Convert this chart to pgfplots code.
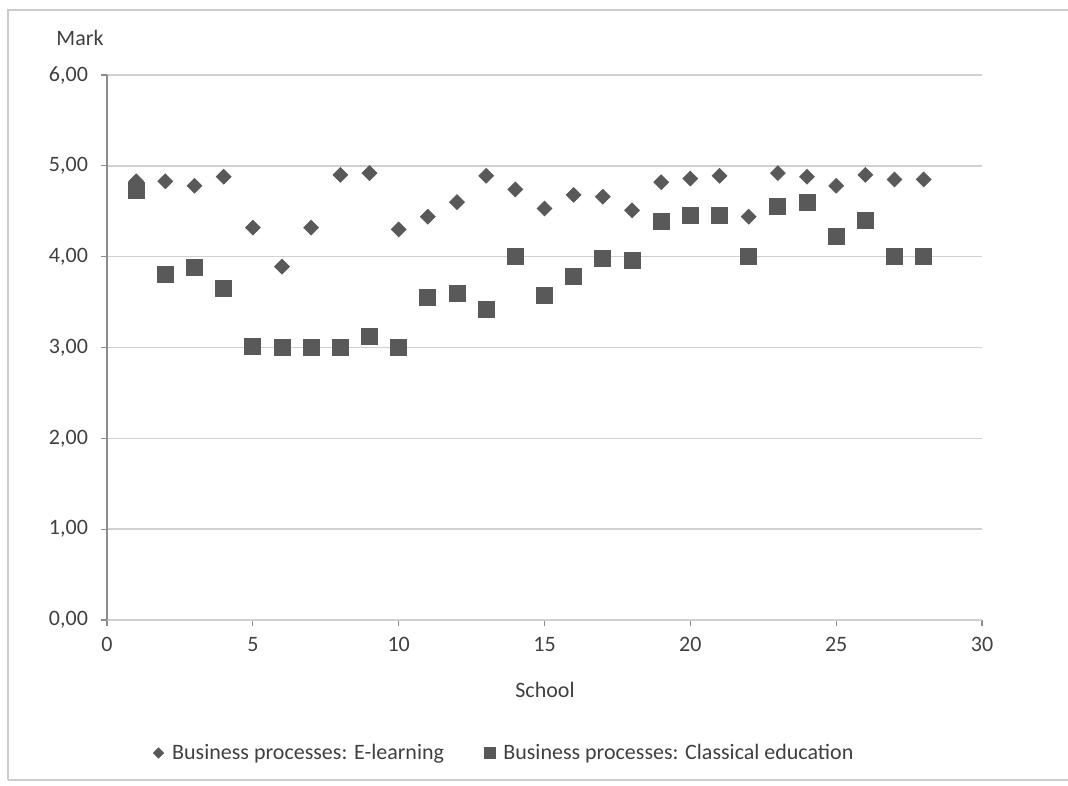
\documentclass[border=0pt]{standalone}
\usepackage{pgfplots}
\pgfplotsset{compat=1.18}
\usepackage{fontspec}
\setmainfont{Carlito}
\definecolor{mk}{HTML}{595959}
\definecolor{gridc}{HTML}{D0D0D0}
\definecolor{axc}{HTML}{8C8C8C}
\definecolor{txt}{HTML}{404040}
\begin{document}
\begin{tikzpicture}[font=\fontsize{11}{13}\selectfont]
% bounding box: 1068x785 px at 0.5pt/px, plot area SW at (107px,620px)
\useasboundingbox (-53.5pt,-82.5pt) rectangle (480.5pt,310pt);
\draw[gray!40, line width=0.6pt] (-49.5pt,-80pt) -- (-49.5pt,305pt) -- (480.5pt,305pt);
\draw[gray!40, line width=0.6pt] (-49.5pt,-80pt) -- (480.5pt,-80pt);
\begin{axis}[
  at={(0pt,0pt)}, anchor=south west,
  scale only axis, width=437.5pt, height=272.5pt,
  xmin=0, xmax=30, ymin=0, ymax=6,
  xtick={0,5,...,30}, ytick={0,1,...,6},
  axis x line*=bottom, axis y line*=left,
  x axis line style={gridc, line width=0.8pt, -},
  y axis line style={axc, line width=0.6pt, -},
  tick align=outside, tick style={axc, line width=0.6pt},
  major tick length=3pt,
  ymajorgrids, grid style={gridc, line width=0.8pt},
  yticklabel style={/pgf/number format/fixed, /pgf/number format/precision=2, /pgf/number format/fixed zerofill, /pgf/number format/use comma, text=txt, xshift=-3pt},
  xticklabel style={text=txt, yshift=-2pt},
  /pgf/number format/assume math mode=true,
  clip=false,
  legend style={at={(0.455,-0.244)}, anchor=center, draw=none, legend columns=2,
    /tikz/every even column/.append style={column sep=18pt}, font=\fontsize{11}{13}\selectfont, text=txt},
  legend image code/.code={\path[draw=none,fill=none] (-0.1cm,0) -- (0.17cm,0); \draw[#1] plot coordinates {(0cm,0cm)};},
]
\addplot[only marks, mark=square*, mark size=2.6pt, mark options={rotate=45, fill=mk, draw=mk},
  legend image post style={mark size=1.8pt}] coordinates {
(1,4.83) (2,4.83) (3,4.78) (4,4.88) (5,4.32) (6,3.89) (7,4.32) (8,4.90) (9,4.92) (10,4.30)
(11,4.44) (12,4.60) (13,4.89) (14,4.74) (15,4.53) (16,4.68) (17,4.66) (18,4.51) (19,4.82) (20,4.86)
(21,4.89) (22,4.44) (23,4.92) (24,4.88) (25,4.78) (26,4.90) (27,4.85) (28,4.85)
};
\addlegendentry{Business processes: E-learning}
\addplot[only marks, mark=square*, mark size=4pt, mark options={fill=mk, draw=mk},
  legend image post style={mark size=2.7pt}] coordinates {
(1,4.73) (2,3.81) (3,3.88) (4,3.65) (5,3.01) (6,3.00) (7,3.00) (8,3.00) (9,3.12) (10,3.00)
(11,3.55) (12,3.60) (13,3.42) (14,4.00) (15,3.57) (16,3.78) (17,3.98) (18,3.96) (19,4.39) (20,4.45)
(21,4.45) (22,4.00) (23,4.55) (24,4.60) (25,4.22) (26,4.40) (27,4.00) (28,4.00)
};
\addlegendentry{Business processes: Classical education}
\end{axis}
\node[text=txt] at (-13.5pt,291pt) {Mark};
\node[text=txt] at (219pt,-35pt) {School};
\end{tikzpicture}
\end{document}
